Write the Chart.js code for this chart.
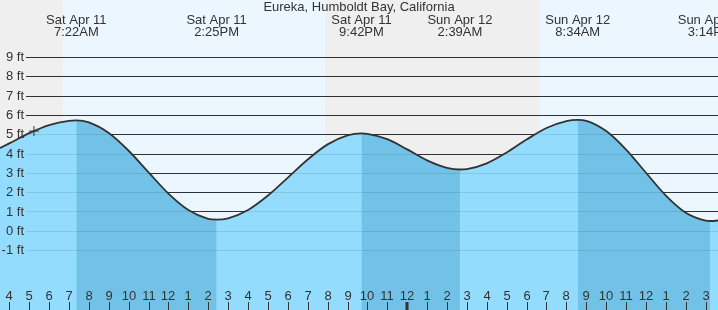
<!DOCTYPE html>
<html>
<head>
  <script src="https://cdn.jsdelivr.net/npm/chart.js"></script>
  <style>
    html, body { margin: 0; padding: 0; background: #fff; }
  </style>
</head>
<body>
  <canvas id="tideChart" width="718" height="310"></canvas>
  <script>
    // hours are counted from Sat Apr 11 00:00
    const tideHours = [3, 4, 5, 6, 7, 7.37, 8, 9, 10, 11, 12, 13, 14, 14.42, 15, 16, 17, 18, 19, 20, 21, 21.7,
                       22, 23, 24, 25, 26, 26.65, 27, 28, 29, 30, 31, 32, 32.57, 33, 34, 35, 36, 37, 38, 39, 39.23, 40];
    const tideFeet = [4.05, 4.55, 5.08, 5.50, 5.72, 5.74, 5.64, 5.09, 4.17, 3.05, 1.95, 1.10, 0.64, 0.60, 0.67, 1.10, 1.85, 2.78, 3.72, 4.50, 4.97, 5.07,
                      5.05, 4.77, 4.24, 3.67, 3.28, 3.20, 3.22, 3.52, 4.08, 4.75, 5.35, 5.71, 5.77, 5.72, 5.19, 4.23, 3.03, 1.85, 0.96, 0.55, 0.53, 0.60];

    const extremeHours = [7.37, 14.42, 21.7, 26.65, 32.57, 39.23];
    const extremeDays = ['Sat Apr 11', 'Sat Apr 11', 'Sat Apr 11', 'Sun Apr 12', 'Sun Apr 12', 'Sun Apr 12'];
    const extremeTimes = ['7:22AM', '2:25PM', '9:42PM', '2:39AM', '8:34AM', '3:14PM'];

    const nightSpans = [[0, 6.7], [19.87, 30.67]];
    const daySpans = [[6.7, 19.87], [30.67, 48]];

    const hourTicks = [4, 5, 6, 7, 8, 9, 10, 11, 12, 13, 14, 15, 16, 17, 18, 19, 20, 21, 22, 23,
                       24, 25, 26, 27, 28, 29, 30, 31, 32, 33, 34, 35, 36, 37, 38, 39];
    const hourLabels = ['4', '5', '6', '7', '8', '9', '10', '11', '12', '1', '2', '3', '4', '5', '6', '7', '8', '9', '10', '11',
                        '12', '1', '2', '3', '4', '5', '6', '7', '8', '9', '10', '11', '12', '1', '2', '3'];
    const feetTicks = [-1, 0, 1, 2, 3, 4, 5, 6, 7, 8, 9];

    const nowHour = 5.24;
    const nowFeet = 5.19;

    const waterLight = 'rgb(147, 220, 253)';
    const waterDark = 'rgb(114, 193, 230)';
    const inkColor = '#333';
    const font = '13px "Liberation Sans", Arial, sans-serif';

    function drawGrid(chart, color) {
      const ctx = chart.ctx;
      const y = chart.scales.y;
      ctx.save();
      ctx.strokeStyle = color;
      ctx.lineWidth = 1;
      feetTicks.forEach(v => {
        const py = Math.floor(y.getPixelForValue(v)) + 0.5;
        ctx.beginPath();
        ctx.moveTo(26, py);
        ctx.lineTo(chart.width, py);
        ctx.stroke();
      });
      ctx.restore();
    }

    const tideDecor = {
      id: 'tideDecor',
      beforeDraw(chart) {
        const ctx = chart.ctx;
        const x = chart.scales.x;
        ctx.save();
        ctx.fillStyle = '#efefef';
        nightSpans.forEach(s => {
          const a = x.getPixelForValue(s[0]), b = x.getPixelForValue(s[1]);
          ctx.fillRect(a, 0, b - a, chart.height);
        });
        ctx.fillStyle = '#ecf6ff';
        daySpans.forEach(s => {
          const a = x.getPixelForValue(s[0]), b = x.getPixelForValue(s[1]);
          ctx.fillRect(a, 0, b - a, chart.height);
        });
        ctx.restore();
      },
      beforeDatasetsDraw(chart) {
        drawGrid(chart, inkColor);
      },
      afterDatasetDraw(chart, args) {
        // faint grid showing through the water
        if (args.index === 1) drawGrid(chart, 'rgba(30, 40, 50, 0.12)');
      },
      afterDatasetsDraw(chart) {
        const ctx = chart.ctx;
        const x = chart.scales.x, y = chart.scales.y;
        ctx.save();
        ctx.font = font;
        ctx.fillStyle = inkColor;
        ctx.strokeStyle = inkColor;

        // feet labels
        ctx.textAlign = 'right';
        ctx.textBaseline = 'middle';
        feetTicks.forEach(v => {
          ctx.fillText(v + ' ft', 24, y.getPixelForValue(v));
        });

        // hour ticks along the bottom
        ctx.textAlign = 'center';
        ctx.textBaseline = 'alphabetic';
        hourTicks.forEach((h, i) => {
          const px = Math.round(x.getPixelForValue(h));
          const midnight = h % 24 === 0;
          ctx.fillText(hourLabels[i], px, 300);
          ctx.lineWidth = midnight ? 3 : 1;
          ctx.beginPath();
          ctx.moveTo(midnight ? px : px + 0.5, 302);
          ctx.lineTo(midnight ? px : px + 0.5, chart.height);
          ctx.stroke();
        });

        // high / low times along the top
        extremeHours.forEach((h, i) => {
          const px = x.getPixelForValue(h);
          ctx.fillText(extremeDays[i], px, 24);
          ctx.fillText(extremeTimes[i], px, 36);
        });

        ctx.fillText('Eureka, Humboldt Bay, California', chart.width / 2, 11);
        ctx.restore();
      }
    };

    function renderChart() {
      const points = tideHours.map((h, i) => ({ x: h, y: tideFeet[i] }));
      const ctx = document.getElementById('tideChart').getContext('2d');
      new Chart(ctx, {
        type: 'line',
        data: {
          datasets: [
            {
              // water
              data: points,
              borderWidth: 0,
              pointRadius: 0,
              cubicInterpolationMode: 'monotone',
              fill: 'start',
              backgroundColor: waterLight,
              order: 4
            },
            {
              // falling tide
              data: points,
              borderWidth: 0,
              pointRadius: 0,
              cubicInterpolationMode: 'monotone',
              fill: 'start',
              backgroundColor: 'rgba(0,0,0,0)',
              segment: {
                backgroundColor: c => c.p1.parsed.y < c.p0.parsed.y ? waterDark : 'rgba(0,0,0,0)'
              },
              order: 3
            },
            {
              data: points,
              borderColor: inkColor,
              borderWidth: 1.8,
              pointRadius: 0,
              cubicInterpolationMode: 'monotone',
              fill: false,
              order: 2
            },
            {
              data: [{ x: nowHour, y: nowFeet }],
              showLine: false,
              pointStyle: 'cross',
              pointRadius: 5,
              borderColor: inkColor,
              borderWidth: 1,
              order: 1
            }
          ]
        },
        options: {
          responsive: false,
          animation: false,
          layout: { padding: 0, autoPadding: false },
          plugins: {
            legend: { display: false },
            tooltip: { enabled: false }
          },
          scales: {
            x: { type: 'linear', min: 3.533, max: 39.62, display: false },
            y: { min: -4.08, max: 11.98, display: false }
          }
        },
        plugins: [tideDecor]
      });
    }

    renderChart();
  </script>
</body>
</html>
